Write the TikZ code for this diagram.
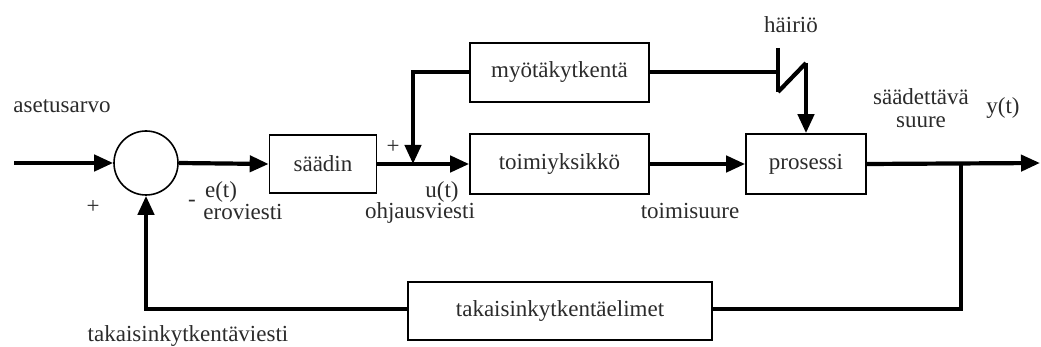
\documentclass[tikz,border=0pt]{standalone}
\usepackage{fontspec}
\setmainfont{Liberation Serif}
\usetikzlibrary{arrows.meta}
\definecolor{txt}{HTML}{2B2B2B}
\begin{document}
\begin{tikzpicture}[x=1pt,y=-1pt,
  font=\fontsize{23}{23}\selectfont,
  blk/.style={draw, line width=1.6pt, rectangle, inner sep=0pt, text=txt},
  sig/.style={line width=4.2pt, draw},
  arr/.style={sig, -{Triangle[length=19pt,width=16pt]}},
  lbl/.style={text=txt, inner sep=0pt}]
\useasboundingbox (0,0) rectangle (1041,347);
% blocks
\node[draw, circle, line width=1.6pt, minimum size=64pt, inner sep=0pt] (sum) at (146,163) {};
\node[blk, minimum width=107pt, minimum height=58pt] (saadin) at (323,164) {s\"a\"adin};
\node[blk, minimum width=179pt, minimum height=60pt] (toimi) at (559.5,164) {toimiyksikk\"o};
\node[blk, minimum width=179pt, minimum height=59pt] (myota) at (559.5,72.5) {my\"ot\"akytkent\"a};
\node[blk, minimum width=120pt, minimum height=60pt] (pros) at (806,164) {prosessi};
\node[blk, minimum width=304pt, minimum height=58pt] (taka) at (560,311) {takaisinkytkent\"aelimet};
% helper coordinates
\coordinate (in) at (14,163);
\coordinate (out) at (1040,163);
\coordinate (br) at (961,163);
\coordinate (brd) at (961,309);
\coordinate (fbc) at (146,309);
\coordinate (ffc) at (413,72);
\coordinate (ffj) at (413,164);
\coordinate (dh) at (778,72);
\coordinate (dbt) at (778,48);
\coordinate (dbb) at (778,92);
\coordinate (dtop) at (806,63);
% connectors
\draw[arr] (in) -- (sum.west);
\draw[arr] (sum.east) -- (saadin.west);
\draw[arr] (saadin.east) -- (toimi.west);
\draw[arr] (toimi.east) -- (pros.west);
\draw[arr] (pros.east) -- (out);
\draw[sig] (br) -- (brd) -- (taka.east |- brd);
\draw[arr] (taka.west |- fbc) -- (fbc) -- (sum.south);
\draw[arr, line join=miter] (myota.west |- ffc) -- (ffc) -- (ffj);
\draw[sig] (myota.east |- dh) -- (dh);
\draw[sig] (dbt) -- (dbb);
\draw[sig, line join=miter] (dbb) -- (dtop);
\draw[arr] (dtop) -- (pros.north);
% labels
\node[lbl] at (62,106) {asetusarvo};
\node[lbl] at (93,207) {+};
\node[lbl] at (192,203) {-};
\node[lbl] at (221,192) {e(t)};
\node[lbl] at (243,212) {eroviesti};
\node[lbl] at (393,147) {+};
\node[lbl] at (442,192) {u(t)};
\node[lbl] at (420,213) {ohjausviesti};
\node[lbl] at (690,211) {toimisuure};
\node[lbl] at (791,25) {h\"airi\"o};
\node[lbl, align=center] at (921,108) {s\"a\"adett\"av\"a\\suure};
\node[lbl] at (1003,108) {y(t)};
\node[lbl] at (188,336) {takaisinkytkent\"aviesti};
\end{tikzpicture}
\end{document}
